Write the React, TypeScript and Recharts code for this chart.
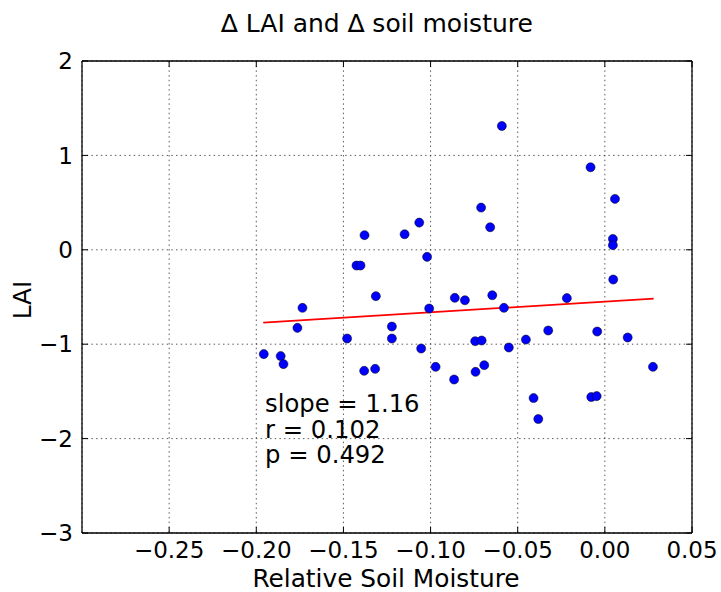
import { ComposedChart, Scatter, XAxis, YAxis, CartesianGrid, ReferenceLine, Customized } from 'recharts';

// relative soil moisture (x) and LAI anomaly (y) per sample
const moisture = [
  -0.1957, -0.186, -0.1844, -0.1764, -0.1735, -0.1479, -0.1425, -0.1402, -0.1379, -0.1381,
  -0.1318, -0.1314, -0.1222, -0.1222, -0.1149, -0.1065, -0.1054, -0.102, -0.1008, -0.0971,
  -0.0861, -0.0865, -0.0803, -0.0744, -0.0742, -0.0707, -0.071, -0.0692, -0.0658, -0.0646,
  -0.0591, -0.0579, -0.0551, -0.0453, -0.0409, -0.0382, -0.0325, -0.0218, -0.0082, -0.0078,
  -0.0047, -0.0044, 0.0058, 0.0046, 0.0046, 0.0048, 0.0131, 0.0276,
];
const lai = [
  -1.105, -1.126, -1.211, -0.827, -0.615, -0.94, -0.167, -0.167, 0.155, -1.282,
  -1.261, -0.491, -0.813, -0.94, 0.165, 0.288, -1.046, -0.075, -0.622, -1.24,
  -0.509, -1.374, -0.534, -0.968, -1.293, -0.961, 0.447, -1.222, 0.239, -0.481,
  1.312, -0.615, -1.035, -0.951, -1.571, -1.793, -0.855, -0.512, 0.874, -1.56,
  -1.55, -0.866, 0.539, 0.115, 0.049, -0.315, -0.929, -1.24,
];

// regression line end points
const fitMoisture = [-0.196, 0.028];
const fitLai = [-0.771, -0.517];

const xTicks = [-0.25, -0.2, -0.15, -0.1, -0.05, 0, 0.05];
const yTicks = [-3, -2, -1, 0, 1, 2];

const stats = ['slope = 1.16', 'r = 0.102', 'p = 0.492'];

const points = moisture.map((m, i) => ({ x: m, y: lai[i] }));

const FONT = '"DejaVu Sans", sans-serif';
const minus = (s: string) => s.replace('-', '\u2212');

function Texts() {
  return (
    <g fontFamily={FONT} fill="#000">
      <text x={377} y={32} fontSize={25} textAnchor="middle">∆ LAI and ∆ soil moisture</text>
      <text x={386} y={587} fontSize={24.8} textAnchor="middle">Relative Soil Moisture</text>
      <text transform="translate(31,300) rotate(-90)" fontSize={24.8} textAnchor="middle">LAI</text>
      {stats.map((s, i) => (
        <text key={s} x={265} y={412 + i * 25.7} fontSize={24.3}>{s}</text>
      ))}
    </g>
  );
}

export default function App() {
  const tickStyle = { fill: '#000', fontSize: 23, fontFamily: FONT };
  return (
    <div style={{ position: 'absolute', left: 0, top: 0, background: '#fff' }}>
      <ComposedChart width={721} height={592} data={points} margin={{ top: 60, right: 28, bottom: 0, left: 0 }}>
        <CartesianGrid stroke="#333" strokeWidth={0.8} strokeDasharray="1.5 3.2" />
        <XAxis
          type="number"
          dataKey="x"
          domain={[-0.3, 0.05]}
          ticks={xTicks}
          allowDataOverflow
          height={59}
          tickSize={-6}
          tickMargin={15}
          tick={tickStyle}
          tickFormatter={(v: number) => minus(v.toFixed(2))}
          stroke="#000"
          axisLine={{ stroke: '#000', strokeWidth: 1.3 }}
          tickLine={{ stroke: '#000' }}
        />
        <XAxis
          xAxisId="top"
          orientation="top"
          type="number"
          dataKey="x"
          domain={[-0.3, 0.05]}
          ticks={xTicks}
          allowDataOverflow
          height={1}
          tickSize={-6}
          tickFormatter={() => ''}
          axisLine={{ stroke: '#000', strokeWidth: 1.3 }}
          tickLine={{ stroke: '#000' }}
        />
        <YAxis
          type="number"
          dataKey="y"
          domain={[-3, 2]}
          ticks={yTicks}
          allowDataOverflow
          width={82}
          tickSize={-6}
          tickMargin={15}
          tick={tickStyle}
          tickFormatter={(v: number) => minus(String(v))}
          axisLine={{ stroke: '#000', strokeWidth: 1.3 }}
          tickLine={{ stroke: '#000' }}
        />
        <YAxis
          yAxisId="right"
          orientation="right"
          type="number"
          dataKey="y"
          domain={[-3, 2]}
          ticks={yTicks}
          allowDataOverflow
          width={1}
          tickSize={-6}
          tickFormatter={() => ''}
          axisLine={{ stroke: '#000', strokeWidth: 1.3 }}
          tickLine={{ stroke: '#000' }}
        />
        <ReferenceLine
          segment={[
            { x: fitMoisture[0], y: fitLai[0] },
            { x: fitMoisture[1], y: fitLai[1] },
          ]}
          stroke="#ff0000"
          strokeWidth={1.8}
        />
        <Scatter
          data={points}
          dataKey="y"
          fill="#0000ff"
          stroke="#000"
          strokeWidth={0.5}
          isAnimationActive={false}
        />
        <Customized component={Texts} />
      </ComposedChart>
    </div>
  );
}
